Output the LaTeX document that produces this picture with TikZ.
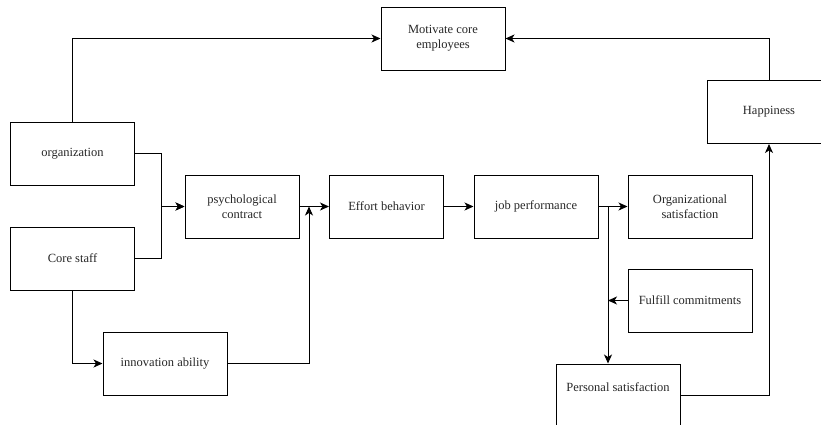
\documentclass[tikz,border=0pt]{standalone}
\usepackage{fontspec}
\setmainfont{Liberation Serif}
\usetikzlibrary{arrows.meta}

\begin{document}
\begin{tikzpicture}[x=1pt, y=-1pt, >={Stealth[length=9pt, width=8pt, inset=2.5pt]}, line width=1pt,
    caixa/.style={draw, minimum width=124pt, minimum height=63pt, inner sep=0pt,
        align=center, text=black!85, font=\fontsize{12.5}{15}\selectfont},
    estreita/.style={caixa, minimum width=114pt}]
    % Área visível
    \clip (0,0) rectangle (821,424);

    % Caixas
    \node[caixa] (motiv) at (443,38.5) {Motivate core\\employees};
    \node[caixa] (org) at (72.5,153.5) {organization};
    \node[caixa] (core) at (72.5,258.5) {Core staff};
    \node[estreita] (psych) at (242,206.5) {psychological\\contract};
    \node[caixa] (innov) at (165,363.5) {innovation ability};
    \node[estreita] (effort) at (386.5,206.5) {Effort behavior};
    \node[caixa] (job) at (536,206.5) {job performance};
    \node[caixa] (orgsat) at (690,206.5) {Organizational\\satisfaction};
    \node[caixa] (fulfill) at (690,300.5) {Fulfill commitments};
    \node[caixa, text depth=17.5pt] (pess) at (618,395.5) {Personal satisfaction};
    \node[caixa] (hap) at (769,112) {Happiness};

    % Pontos de junção
    \coordinate (jun) at (309,206.5);
    \coordinate (ramo) at (608,206.5);

    % Setas
    \draw[->] (org.north) |- (motiv.west);
    \draw[->] (hap.north) |- (motiv.east);
    \draw[->] (org.east) -- ++(26,0) |- (psych.west);
    \draw[->] (core.east) -- ++(26,0) |- (psych.west);
    \draw[->] (core.south) |- (innov.west);
    \draw[->] (innov.east) -| (jun);
    \draw[->] (psych.east) -- (effort.west);
    \draw[->] (effort.east) -- (job.west);
    \draw[->] (job.east) -- (orgsat.west);
    \draw[->] (ramo) -- (ramo |- pess.north);
    \draw[->] (fulfill.west) -- (ramo |- fulfill.west);
    \draw[->] (pess.east) -| (hap.south);
\end{tikzpicture}
\end{document}
